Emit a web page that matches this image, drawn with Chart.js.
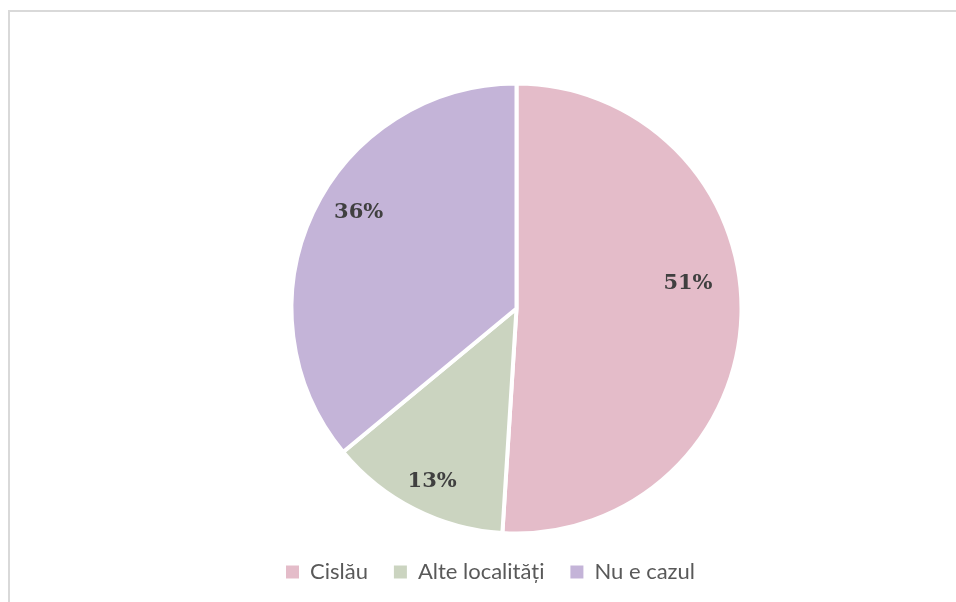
<!DOCTYPE html>
<html>
<head>
<meta charset="utf-8">
<script src="https://cdn.jsdelivr.net/npm/chart.js@4"></script>
<style>
  html, body { margin: 0; padding: 0; background: #fff; overflow: hidden; }
  #frame {
    position: absolute; left: 8px; top: 10px; width: 1000px; height: 700px;
    border-left: 2px solid #d9d9d9; border-top: 2px solid #d9d9d9;
  }
  #wrap { position: absolute; left: 0; top: 0; width: 956px; height: 602px; }
</style>
</head>
<body>
<div id="frame"></div>
<div id="wrap"><canvas id="myChart" width="956" height="602"></canvas></div>
<script>
const categories = ['Cislău', 'Alte localități', 'Nu e cazul'];
const values = [51, 13, 36];
const colors = ['#E4BCC9', '#CBD4C0', '#C4B4D8'];

// where the percent labels sit inside each slice (fraction of radius, angle shift in degrees)
const labelRadius = [0.77, 0.855, 0.82];
const labelShift = [-10, -1, 6];

const pctLabels = {
    id: 'pctLabels',
    afterDatasetsDraw(chart) {
        const ctx = chart.ctx;
        const meta = chart.getDatasetMeta(0);
        const total = values.reduce((a, b) => a + b, 0);
        ctx.save();
        ctx.font = 'bold 21px "DejaVu Serif"';
        ctx.fillStyle = '#404040';
        ctx.textAlign = 'center';
        ctx.textBaseline = 'middle';
        meta.data.forEach((arc, i) => {
            const p = arc.getProps(['x', 'y', 'startAngle', 'endAngle', 'outerRadius'], true);
            const a = (p.startAngle + p.endAngle) / 2 + labelShift[i] * Math.PI / 180;
            const r = p.outerRadius * labelRadius[i];
            const txt = Math.round(values[i] / total * 100) + '%';
            ctx.fillText(txt, p.x + Math.cos(a) * r, p.y + Math.sin(a) * r);
        });
        ctx.restore();
    }
};

// legend sits a bit left of the pie centre in the original
const moveLegend = {
    id: 'moveLegend',
    afterLayout(chart) {
        chart.legend.left -= 26;
        chart.legend.right -= 26;
    }
};

const ctx = document.getElementById('myChart').getContext('2d');
const myChart = new Chart(ctx, {
    type: 'pie',
    data: {
        labels: categories,
        datasets: [{
            data: values,
            backgroundColor: colors,
            borderColor: '#ffffff',
            borderWidth: 4,
            hoverOffset: 0,
            radius: 225
        }]
    },
    options: {
        responsive: false,
        animation: false,
        layout: { padding: { top: 82, bottom: 9, left: 77, right: 0 } },
        plugins: {
            tooltip: { enabled: false },
            legend: {
                position: 'bottom',
                labels: {
                    boxWidth: 13,
                    boxHeight: 13,
                    padding: 26,
                    color: '#595959',
                    font: { family: 'Lato', size: 22 },
                    generateLabels(chart) {
                        const items = Chart.controllers.pie.overrides.plugins.legend.labels.generateLabels(chart);
                        items.forEach(it => { it.lineWidth = 0; it.strokeStyle = it.fillStyle; });
                        return items;
                    }
                }
            }
        }
    },
    plugins: [pctLabels, moveLegend]
});
</script>
</body>
</html>
